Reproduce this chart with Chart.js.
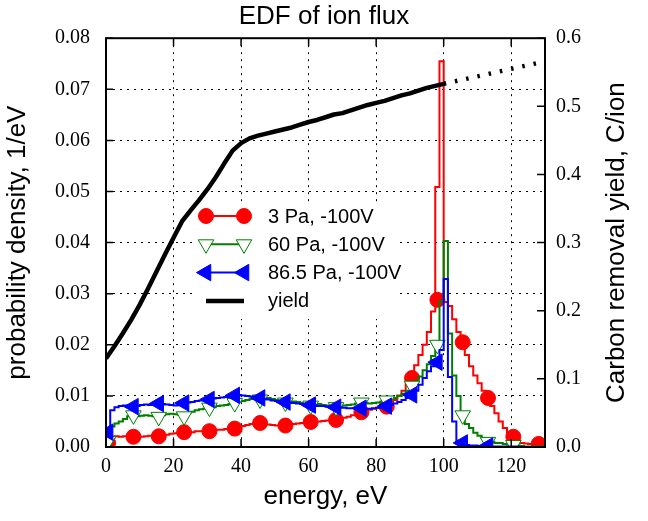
<!DOCTYPE html>
<html>
<head>
<meta charset="utf-8">
<script src="https://cdn.jsdelivr.net/npm/chart.js@4.4.0/dist/chart.umd.min.js"></script>
<style>
  html, body { margin: 0; padding: 0; background: #fff; }
</style>
</head>
<body>
<canvas id="chart" width="648" height="521"></canvas>
<script>
// histogram bins are 1.25 eV wide, starting at 0 eV
const binWidth = 1.25;

const redHist = [
  0.0008, 0.0018, 0.0021, 0.0020, 0.0021, 0.0020, 0.0020, 0.0021,
  0.0020, 0.0021, 0.0022, 0.0021, 0.0021, 0.0023, 0.0024, 0.0026,
  0.0027, 0.0028, 0.0029, 0.0030, 0.0029, 0.0031, 0.0031, 0.0030,
  0.0031, 0.0033, 0.0034, 0.0034, 0.0035, 0.0036, 0.0036, 0.0038,
  0.0041, 0.0043, 0.0045, 0.0046, 0.0047, 0.0046, 0.0044, 0.0043,
  0.0042, 0.0042, 0.0042, 0.0043, 0.0045, 0.0046, 0.0047, 0.0048,
  0.0049, 0.0050, 0.0050, 0.0051, 0.0052, 0.0052, 0.0053, 0.0055,
  0.0057, 0.0059, 0.0062, 0.0065, 0.0068, 0.0071, 0.0073, 0.0075,
  0.0077, 0.0078, 0.0079, 0.0084, 0.0092, 0.0101, 0.0110, 0.0125,
  0.0135, 0.0160, 0.0180, 0.0200, 0.0225, 0.0265, 0.0509, 0.0755,
  0.0284, 0.0276, 0.0250, 0.0225, 0.0205, 0.0180, 0.0158, 0.0140,
  0.0125, 0.0110, 0.0096, 0.0080, 0.0066, 0.0050, 0.0037, 0.0027,
  0.0020, 0.0012, 0.0008, 0.0007, 0.0006, 0.0006, 0.0006, 0.0005
];
const greenHist = [
  0.0012, 0.0040, 0.0046, 0.0050, 0.0055, 0.0060, 0.0062, 0.0060,
  0.0061, 0.0062, 0.0061, 0.0060, 0.0059, 0.0062, 0.0064, 0.0065,
  0.0064, 0.0063, 0.0060, 0.0066, 0.0069, 0.0072, 0.0074, 0.0075,
  0.0077, 0.0078, 0.0080, 0.0081, 0.0082, 0.0084, 0.0086, 0.0088,
  0.0090, 0.0092, 0.0094, 0.0095, 0.0093, 0.0095, 0.0096, 0.0094,
  0.0092, 0.0090, 0.0087, 0.0088, 0.0089, 0.0088, 0.0086, 0.0085,
  0.0081, 0.0083, 0.0084, 0.0082, 0.0081, 0.0080, 0.0078, 0.0080,
  0.0081, 0.0082, 0.0083, 0.0085, 0.0087, 0.0086, 0.0085, 0.0086,
  0.0087, 0.0089, 0.0091, 0.0093, 0.0096, 0.0100, 0.0104, 0.0110,
  0.0119, 0.0128, 0.0138, 0.0150, 0.0162, 0.0178, 0.0200, 0.0285,
  0.0403, 0.0222, 0.0140, 0.0100, 0.0062, 0.0045, 0.0037, 0.0028,
  0.0022, 0.0017, 0.0012, 0.0010, 0.0008, 0.0008, 0.0006, 0.0005,
  0.0004, 0.0003, 0.0002, 0.0001, 0.0001, 0.0001, 0.0001, 0.0001
];
const blueHist = [
  0.0029, 0.0072, 0.0078, 0.0080, 0.0081, 0.0080, 0.0079, 0.0080,
  0.0082, 0.0083, 0.0082, 0.0084, 0.0085, 0.0084, 0.0083, 0.0082,
  0.0081, 0.0083, 0.0086, 0.0087, 0.0088, 0.0090, 0.0091, 0.0092,
  0.0093, 0.0095, 0.0096, 0.0097, 0.0098, 0.0100, 0.0101, 0.0102,
  0.0101, 0.0100, 0.0099, 0.0097, 0.0096, 0.0094, 0.0093, 0.0091,
  0.0090, 0.0089, 0.0088, 0.0087, 0.0086, 0.0085, 0.0084, 0.0083,
  0.0082, 0.0081, 0.0080, 0.0080, 0.0079, 0.0078, 0.0078, 0.0077,
  0.0077, 0.0076, 0.0076, 0.0075, 0.0076, 0.0075, 0.0075, 0.0076,
  0.0077, 0.0078, 0.0080, 0.0082, 0.0085, 0.0088, 0.0092, 0.0096,
  0.0102, 0.0110, 0.0122, 0.0135, 0.0148, 0.0158, 0.0166, 0.0190,
  0.0329, 0.0137, 0.0050, 0.0012, 0.0008, 0.0004, 0.0003, 0.0003,
  0.0002, 0.0002, 0.0002, 0.0001, 0.0001, 0.0001, 0.0001, 0.0001,
  0.0001, 0.0001, 0.0000, 0.0000, 0.0000, 0.0000, 0.0000, 0.0000
];

// markers, every 6th bin
const markerX = [0.625, 8.125, 15.625, 23.125, 30.625, 38.125, 45.625, 53.125, 60.625,
                 68.125, 75.625, 83.125, 90.625, 98.125, 105.625, 113.125, 120.625, 128.125];
const redMarks = [0.0008, 0.0020, 0.0021, 0.0029, 0.0031, 0.0036, 0.0047, 0.0042, 0.0049,
                  0.0053, 0.0068, 0.0079, 0.0135, 0.0288, 0.0205, 0.0096, 0.0020, 0.0006];
const greenMarks = [0.0012, 0.0062, 0.0059, 0.0060, 0.0077, 0.0086, 0.0093, 0.0087, 0.0081,
                    0.0078, 0.0087, 0.0091, 0.0120, 0.0200, 0.0062, 0.0010, 0.0004, null];
const blueMarks = [0.0029, 0.0079, 0.0085, 0.0086, 0.0093, 0.0101, 0.0096, 0.0088, 0.0082,
                   0.0078, 0.0076, 0.0080, 0.0102, 0.0166, 0.0008, 0.0002, null, null];

// carbon removal yield (right axis)
const yieldX = [0, 2.5, 5, 7.5, 10, 12.5, 15, 17.5, 20, 22.5, 25, 27.5, 30, 32.5, 35, 37.5,
                40, 42.5, 45, 47.5, 50, 52.5, 55, 57.5, 60, 62.5, 65, 67.5, 70, 72.5, 75,
                77.5, 80, 82.5, 85, 87.5, 90, 92.5, 95, 97.5, 100];
const yieldY = [0.130, 0.148, 0.167, 0.187, 0.209, 0.233, 0.258, 0.283, 0.307, 0.331, 0.347,
                0.362, 0.378, 0.396, 0.416, 0.435, 0.446, 0.453, 0.457, 0.460, 0.463, 0.466,
                0.469, 0.473, 0.477, 0.480, 0.484, 0.488, 0.490, 0.494, 0.498, 0.502, 0.505,
                0.508, 0.512, 0.516, 0.519, 0.523, 0.527, 0.530, 0.533];
const yieldExtX = [100, 130];
const yieldExtY = [0.533, 0.566];

const xTicks = [0, 20, 40, 60, 80, 100, 120];
const yTicks = [0, 0.01, 0.02, 0.03, 0.04, 0.05, 0.06, 0.07, 0.08];
const y2Ticks = [0, 0.1, 0.2, 0.3, 0.4, 0.5, 0.6];
const labels = ['3 Pa, -100V', '60 Pa, -100V', '86.5 Pa, -100V', 'yield'];

const RED = '#ff0000', GREEN = '#008000', BLUE = '#0000ff';

function histPoints(values) {
  const pts = values.map((v, i) => ({ x: i * binWidth, y: v }));
  pts.push({ x: values.length * binWidth, y: values[values.length - 1] });
  return pts;
}
function pairs(xs, ys) {
  return xs.map((x, i) => ({ x: x, y: ys[i] }));
}

function histSet(values, color, order) {
  return {
    data: histPoints(values), stepped: 'before', borderColor: color, borderWidth: 2,
    pointRadius: 0, yAxisID: 'y', order: order, clip: 0
  };
}
function markSet(values, color, fill, style, rot, radius, order) {
  return {
    data: pairs(markerX, values), showLine: false, pointStyle: style, pointRotation: rot,
    pointRadius: radius, pointBackgroundColor: fill, pointBorderColor: color,
    pointBorderWidth: 1, yAxisID: 'y', order: order, clip: 0
  };
}

function drawMarker(ctx, style, rot, r, x, y, fill, stroke) {
  ctx.beginPath();
  if (style === 'circle') {
    ctx.arc(x, y, r, 0, Math.PI * 2);
  } else {
    let a = rot * Math.PI / 180;
    for (let k = 0; k < 3; k++) {
      const px = x + Math.sin(a) * r, py = y - Math.cos(a) * r;
      if (k === 0) ctx.moveTo(px, py); else ctx.lineTo(px, py);
      a += Math.PI * 2 / 3;
    }
    ctx.closePath();
  }
  ctx.fillStyle = fill; ctx.fill();
  ctx.strokeStyle = stroke; ctx.lineWidth = 1; ctx.stroke();
}

// white legend box, drawn under the datasets so the yield line stays on top
const boxLegend = {
  id: 'boxLegend',
  beforeDatasetsDraw(chart) {
    const ctx = chart.ctx;
    const items = [
      { color: RED, fill: RED, style: 'circle', rot: 0, r: 7.5 },
      { color: GREEN, fill: '#fff', style: 'triangle', rot: 180, r: 9 },
      { color: BLUE, fill: BLUE, style: 'triangle', rot: 270, r: 9.5 },
      { color: '#000', yieldLine: true }
    ];
    ctx.save();
    ctx.fillStyle = '#fff';
    ctx.fillRect(193, 203, 206, 116);
    items.forEach((it, k) => {
      const y = 216 + k * 28.3;
      ctx.beginPath();
      ctx.moveTo(206, y); ctx.lineTo(244, y);
      ctx.strokeStyle = it.color;
      ctx.lineWidth = it.yieldLine ? 4.5 : 2;
      ctx.stroke();
      if (!it.yieldLine) {
        drawMarker(ctx, it.style, it.rot, it.r, 206, y, it.fill, it.color);
        drawMarker(ctx, it.style, it.rot, it.r, 244, y, it.fill, it.color);
      }
      ctx.fillStyle = '#000';
      ctx.font = '20px "Liberation Sans"';
      ctx.textAlign = 'left';
      ctx.textBaseline = 'middle';
      ctx.fillText(labels[k], 268, y + 1);
    });
    ctx.restore();
  }
};

// frame, inward tick marks and the right-hand axis title
const frame = {
  id: 'frame',
  afterDatasetsDraw(chart) {
    const ctx = chart.ctx;
    const { left, right, top, bottom } = chart.chartArea;
    const sx = chart.scales.x, sy = chart.scales.y, sy2 = chart.scales.y2;
    ctx.save();
    ctx.strokeStyle = '#000';
    ctx.lineWidth = 1.5;
    ctx.beginPath();
    xTicks.forEach(v => {
      const p = sx.getPixelForValue(v);
      ctx.moveTo(p, bottom); ctx.lineTo(p, bottom - 8);
      ctx.moveTo(p, top); ctx.lineTo(p, top + 8);
    });
    yTicks.forEach(v => {
      const p = sy.getPixelForValue(v);
      ctx.moveTo(left, p); ctx.lineTo(left + 7, p);
    });
    y2Ticks.forEach(v => {
      const p = sy2.getPixelForValue(v);
      ctx.moveTo(right, p); ctx.lineTo(right - 8, p);
    });
    ctx.stroke();
    ctx.lineWidth = 2;
    ctx.strokeRect(left, top, right - left, bottom - top);
    ctx.restore();
  },
  afterDraw(chart) {
    const ctx = chart.ctx;
    const { top, bottom } = chart.chartArea;
    ctx.save();
    ctx.translate(617, (top + bottom) / 2);
    ctx.rotate(-Math.PI / 2);
    ctx.fillStyle = '#000';
    ctx.font = '26px "Liberation Sans"';
    ctx.textAlign = 'center';
    ctx.textBaseline = 'middle';
    ctx.fillText('Carbon removal yield, C/ion', 0, 0);
    ctx.restore();
  }
};

Chart.defaults.font.family = '"Liberation Sans", Arial, sans-serif';
Chart.defaults.color = '#000';

const tickFont = { family: '"Liberation Serif", serif', size: 20 };
const dotted = { display: false, dash: [2, 5] };

new Chart(document.getElementById('chart'), {
  type: 'line',
  data: {
    datasets: [
      { data: pairs(yieldX, yieldY), borderColor: '#000', borderWidth: 4.5, pointRadius: 0,
        yAxisID: 'y2', order: 0, clip: 0, borderJoinStyle: 'round' },
      { data: pairs(yieldExtX, yieldExtY), borderColor: '#000', borderWidth: 4.5, pointRadius: 0,
        borderDash: [2.5, 9], yAxisID: 'y2', order: 0, clip: 0 },
      markSet(blueMarks, BLUE, BLUE, 'triangle', 270, 9.5, 1),
      histSet(blueHist, BLUE, 2),
      markSet(greenMarks, GREEN, '#fff', 'triangle', 180, 9, 3),
      histSet(greenHist, GREEN, 4),
      markSet(redMarks, RED, RED, 'circle', 0, 7.5, 5),
      histSet(redHist, RED, 6)
    ]
  },
  options: {
    responsive: false,
    animation: false,
    devicePixelRatio: 1,
    layout: { padding: 0 },
    plugins: {
      legend: { display: false },
      tooltip: { enabled: false },
      title: {
        display: true,
        text: 'EDF of ion flux',
        font: { size: 26, weight: 'normal' },
        color: '#000',
        padding: { top: 1, bottom: 6 }
      }
    },
    scales: {
      x: {
        type: 'linear', min: 0, max: 130,
        afterBuildTicks: s => { s.ticks = xTicks.map(v => ({ value: v })); },
        afterFit: s => { s.height = 74; },
        ticks: { font: tickFont, padding: 8, maxRotation: 0, callback: v => String(v) },
        grid: { color: '#000', lineWidth: 1, drawTicks: false },
        border: dotted,
        title: { display: true, text: 'energy, eV', font: { size: 26 }, padding: { bottom: 9 } }
      },
      y: {
        position: 'left', min: 0, max: 0.08,
        afterBuildTicks: s => { s.ticks = yTicks.map(v => ({ value: v })); },
        afterFit: s => { s.width = 106; },
        ticks: { font: tickFont, padding: 16, callback: v => v.toFixed(2) },
        grid: { color: '#000', lineWidth: 1, drawTicks: false },
        border: dotted,
        title: { display: true, text: 'probability density, 1/eV', font: { size: 26 }, padding: { top: 2 } }
      },
      y2: {
        position: 'right', min: 0, max: 0.6,
        afterBuildTicks: s => { s.ticks = y2Ticks.map(v => ({ value: v })); },
        afterFit: s => { s.width = 103; },
        ticks: { font: tickFont, padding: 11, callback: v => v.toFixed(1) },
        grid: { display: false, drawTicks: false },
        border: { display: false }
      }
    }
  },
  plugins: [boxLegend, frame]
});
</script>
</body>
</html>
